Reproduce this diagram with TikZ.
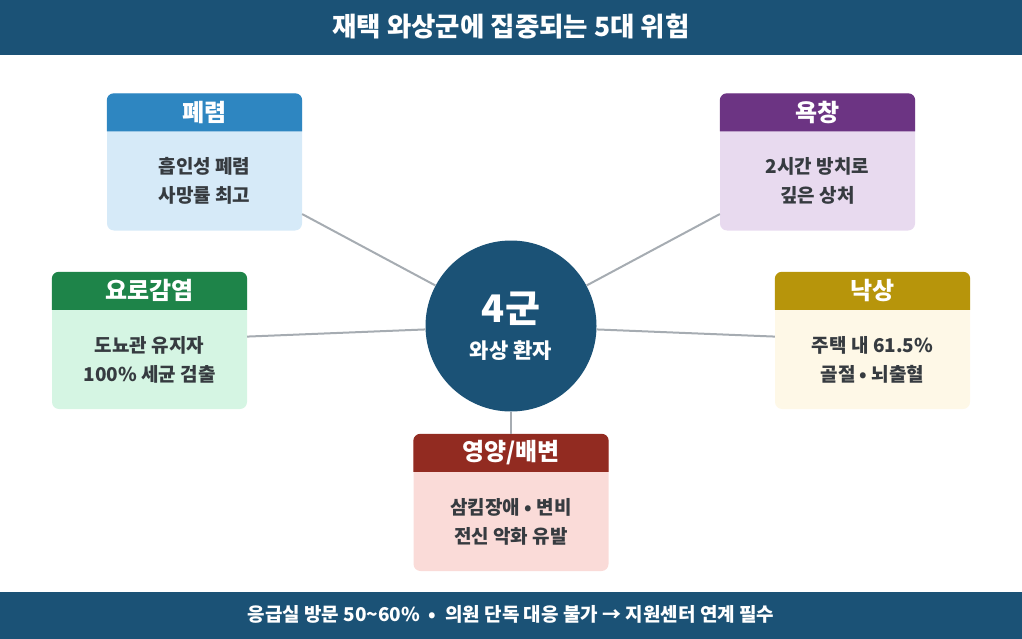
\documentclass[tikz,border=0pt]{standalone}
\usepackage{fontspec}
\setmainfont{Noto Sans CJK KR}
\usepackage{xcolor}

\definecolor{navy}{HTML}{1B5276}
\definecolor{linegray}{HTML}{A6ACB2}
\definecolor{bodytext}{HTML}{363B40}
\definecolor{blueHead}{HTML}{2E86C1}
\definecolor{blueBody}{HTML}{D6EAF8}
\definecolor{purpleHead}{HTML}{6C3483}
\definecolor{purpleBody}{HTML}{E8DAEF}
\definecolor{greenHead}{HTML}{1E8449}
\definecolor{greenBody}{HTML}{D5F5E3}
\definecolor{goldHead}{HTML}{B7950B}
\definecolor{goldBody}{HTML}{FEF8E7}
\definecolor{redHead}{HTML}{922B21}
\definecolor{redBody}{HTML}{FADBD8}

\begin{document}
\begin{tikzpicture}[
    x=1pt, y=-1pt,
    card/.style={rectangle, rounded corners=7pt, minimum width=195pt, minimum height=137pt, inner sep=0pt},
    headtext/.style={text=white, font=\fontsize{24}{28}\selectfont\bfseries},
    bodytxt/.style={text=bodytext, align=center, font=\fontsize{19}{29}\selectfont\bfseries},
    link/.style={draw=linegray, line width=2pt}
]
  \useasboundingbox (0,0) rectangle (1022,639);

  % Title and footer bars
  \fill[navy] (0,0) rectangle (1022,55);
  \node[text=white, font=\fontsize{26.5}{30}\selectfont\bfseries] (title) at (511,27) {재택 와상군에 집중되는 5대 위험};
  \fill[navy] (0,592) rectangle (1022,639);
  \node[text=white, font=\fontsize{19}{22}\selectfont\bfseries] (footer) at (511,614) {응급실 방문 50\textasciitilde60\% \ • \ 의원 단독 대응 불가 → 지원센터 연계 필수};

  % Central circle
  \node[circle, fill=navy, minimum size=171pt, inner sep=0pt] (hub) at (511,326) {};
  \node[text=white, font=\fontsize{38}{42}\selectfont\bfseries] (hubtop) at (511,309) {4군};
  \node[text=white, font=\fontsize{21}{24}\selectfont\bfseries] (hubsub) at (511,351) {와상 환자};

  % Risk cards
  \node[card, fill=blueBody] (pneu) at (204.5,162) {};
  \node[card, fill=purpleBody] (sore) at (817.5,162) {};
  \node[card, fill=greenBody] (uti) at (149.5,340.5) {};
  \node[card, fill=goldBody] (fall) at (872.5,340.5) {};
  \node[card, fill=redBody] (nutri) at (511,502.5) {};

  % Card headers
  \fill[blueHead] ([yshift=-38pt]pneu.north west) [rounded corners=7pt] -- (pneu.north west) -- (pneu.north east) [sharp corners] -- ([yshift=-38pt]pneu.north east) -- cycle;
  \fill[purpleHead] ([yshift=-38pt]sore.north west) [rounded corners=7pt] -- (sore.north west) -- (sore.north east) [sharp corners] -- ([yshift=-38pt]sore.north east) -- cycle;
  \fill[greenHead] ([yshift=-38pt]uti.north west) [rounded corners=7pt] -- (uti.north west) -- (uti.north east) [sharp corners] -- ([yshift=-38pt]uti.north east) -- cycle;
  \fill[goldHead] ([yshift=-38pt]fall.north west) [rounded corners=7pt] -- (fall.north west) -- (fall.north east) [sharp corners] -- ([yshift=-38pt]fall.north east) -- cycle;
  \fill[redHead] ([yshift=-38pt]nutri.north west) [rounded corners=7pt] -- (nutri.north west) -- (nutri.north east) [sharp corners] -- ([yshift=-38pt]nutri.north east) -- cycle;

  % Card titles
  \node[headtext] (pneuhead) at ([yshift=-19pt]pneu.north) {폐렴};
  \node[headtext] (sorehead) at ([yshift=-19pt]sore.north) {욕창};
  \node[headtext] (utihead) at ([yshift=-19pt]uti.north) {요로감염};
  \node[headtext] (fallhead) at ([yshift=-19pt]fall.north) {낙상};
  \node[headtext] (nutrihead) at ([yshift=-19pt]nutri.north) {영양/배변};

  % Card texts
  \node[bodytxt] (pneutext) at ([yshift=-19pt]pneu.center) {흡인성 폐렴\\사망률 최고};
  \node[bodytxt] (soretext) at ([yshift=-19pt]sore.center) {2시간 방치로\\깊은 상처};
  \node[bodytxt] (utitext) at ([yshift=-19pt]uti.center) {도뇨관 유지자\\100\% 세균 검출};
  \node[bodytxt] (falltext) at ([yshift=-19pt]fall.center) {주택 내 61.5\%\\골절 • 뇌출혈};
  \node[bodytxt] (nutritext) at ([yshift=-19pt]nutri.center) {삼킴장애 • 변비\\전신 악화 유발};

  % Links
  \draw[link] (hub) -- (pneu);
  \draw[link] (hub) -- (sore);
  \draw[link] (hub) -- (uti);
  \draw[link] (hub) -- (fall);
  \draw[link] (hub) -- (nutri);
\end{tikzpicture}
\end{document}
